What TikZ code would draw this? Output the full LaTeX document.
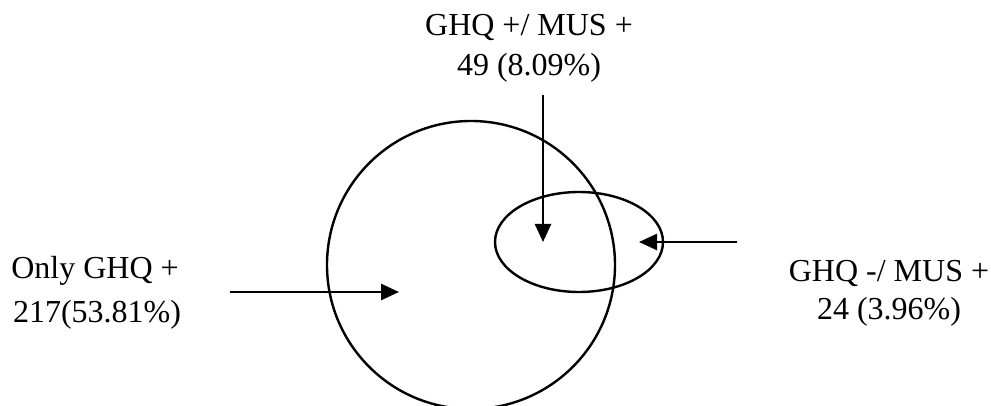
\documentclass[tikz,border=0pt]{standalone}
\usepackage{fontspec}
\setmainfont{Liberation Serif}
\usetikzlibrary{arrows.meta}
\begin{document}
\begin{tikzpicture}[x=1pt,y=-1pt,
  lbl/.style={anchor=base,inner sep=0pt,font=\fontsize{32}{38}\selectfont},
  shapeline/.style={line width=2.4pt},
  pointer/.style={line width=2.6pt,-{Triangle[length=18pt,width=16pt]}}]
\useasboundingbox (0,0) rectangle (991,406);
\clip (0,0) rectangle (991,406);
% sets
\draw[shapeline] (471,265) circle[radius=144pt];
\draw[shapeline] (579,242) ellipse[x radius=84pt,y radius=50pt];
% labels
\node[lbl] (onlyA) at (95,279) {Only GHQ +};
\node[lbl] (onlyB) at (97,322) {217(53.81\%)};
\node[lbl] (bothA) at (529,36) {GHQ +/ MUS +};
\node[lbl] (bothB) at (529,76) {49 (8.09\%)};
\node[lbl] (musA) at (889,281) {GHQ -/ MUS +};
\node[lbl] (musB) at (889,319) {24 (3.96\%)};
% arrow ends
\coordinate (s1) at (230,292);
\coordinate (t1) at (399,292);
\coordinate (s2) at (543,95);
\coordinate (t2) at (543,242);
\coordinate (s3) at (737,242);
\coordinate (t3) at (639,242);
\draw[pointer] (s1) -- (t1);
\draw[pointer] (s2) -- (t2);
\draw[pointer] (s3) -- (t3);
\end{tikzpicture}
\end{document}
